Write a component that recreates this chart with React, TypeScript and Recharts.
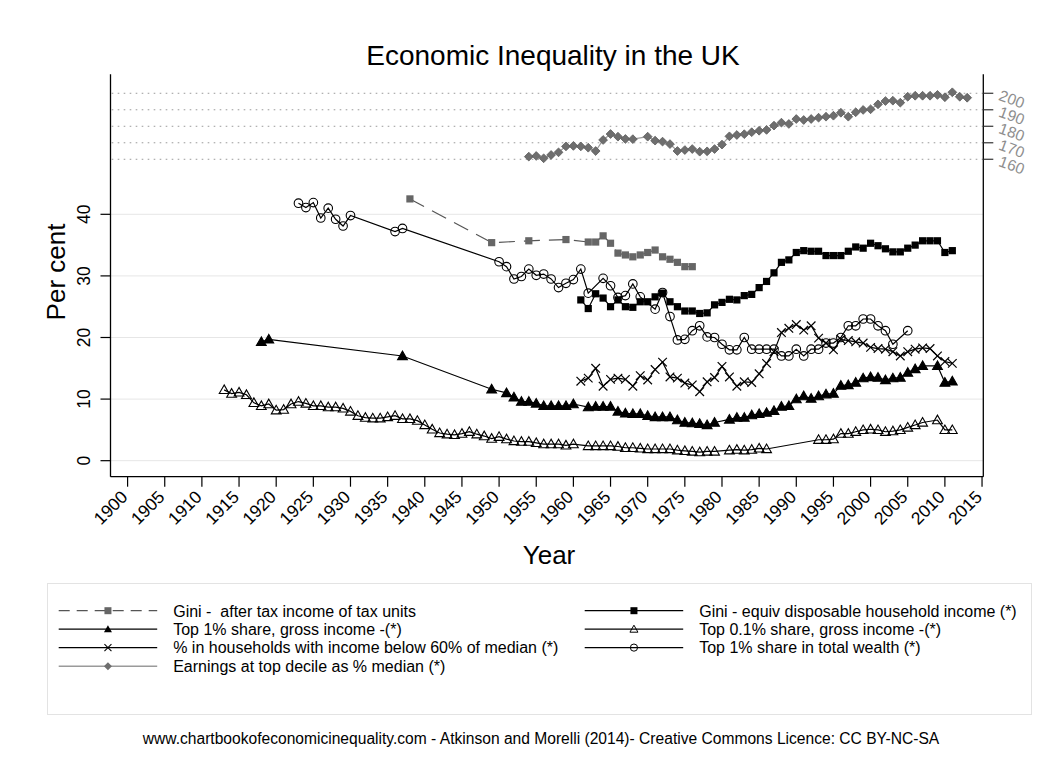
import React from 'react';
import { LineChart, Line, XAxis, YAxis, ReferenceLine, Legend } from 'recharts';

const FONT = '"Liberation Sans", Arial, Helvetica, sans-serif';

// ---------- data ----------
const yearTicks = [1900, 1905, 1910, 1915, 1920, 1925, 1930, 1935, 1940, 1945, 1950, 1955, 1960, 1965, 1970, 1975, 1980, 1985, 1990, 1995, 2000, 2005, 2010, 2015];
const leftTicks = [0, 10, 20, 30, 40];
const rightTicks = [160, 170, 180, 190, 200];

const giniTaxYears = [1938, 1949, 1954, 1959, 1962, 1963, 1964, 1965, 1966, 1967, 1968, 1969, 1970, 1971, 1972, 1973, 1974, 1975, 1976];
const giniTaxVals = [42.5, 35.4, 35.7, 35.9, 35.5, 35.5, 36.5, 35.3, 33.7, 33.4, 33.1, 33.4, 33.8, 34.2, 33.1, 32.7, 32.2, 31.5, 31.5];

const giniHhYears = [1961, 1962, 1963, 1964, 1965, 1966, 1967, 1968, 1969, 1970, 1971, 1972, 1973, 1974, 1975, 1976, 1977, 1978, 1979, 1980, 1981, 1982, 1983, 1984, 1985, 1986, 1987, 1988, 1989, 1990, 1991, 1992, 1993, 1994, 1995, 1996, 1997, 1998, 1999, 2000, 2001, 2002, 2003, 2004, 2005, 2006, 2007, 2008, 2009, 2010, 2011];
const giniHhVals = [26.1, 24.7, 27.1, 26.4, 25.0, 26.1, 25.0, 24.9, 25.8, 25.8, 26.6, 27.2, 25.8, 25.0, 24.3, 24.3, 23.9, 24.0, 25.3, 25.7, 26.2, 26.1, 26.8, 27.0, 28.1, 29.1, 30.5, 32.2, 32.6, 33.8, 34.1, 34.0, 34.0, 33.3, 33.3, 33.3, 34.0, 34.7, 34.5, 35.3, 34.9, 34.4, 33.9, 33.9, 34.5, 35.0, 35.7, 35.7, 35.7, 33.8, 34.1];

const top1Years = [1918, 1919, 1937, 1949, 1951, 1952, 1953, 1954, 1955, 1956, 1957, 1958, 1959, 1960, 1962, 1963, 1964, 1965, 1966, 1967, 1968, 1969, 1970, 1971, 1972, 1973, 1974, 1975, 1976, 1977, 1978, 1979, 1981, 1982, 1983, 1984, 1985, 1986, 1987, 1988, 1989, 1990, 1991, 1992, 1993, 1994, 1995, 1996, 1997, 1998, 1999, 2000, 2001, 2002, 2003, 2004, 2005, 2006, 2007, 2009, 2010, 2011];
const top1Vals = [19.3, 19.7, 17.0, 11.6, 11.0, 10.3, 9.6, 9.6, 9.3, 8.9, 8.9, 8.9, 8.9, 9.2, 8.7, 8.8, 8.8, 8.8, 8.0, 7.7, 7.6, 7.6, 7.3, 7.1, 7.1, 7.1, 6.6, 6.2, 6.1, 6.0, 5.8, 6.2, 6.7, 7.0, 7.0, 7.4, 7.6, 7.8, 8.1, 8.8, 8.9, 10.0, 10.5, 10.1, 10.5, 10.8, 10.9, 12.2, 12.3, 12.7, 13.4, 13.6, 13.5, 13.1, 13.4, 13.5, 14.3, 14.9, 15.4, 15.4, 12.7, 12.9];

const top01Years = [1913, 1914, 1915, 1916, 1917, 1918, 1919, 1920, 1921, 1922, 1923, 1924, 1925, 1926, 1927, 1928, 1929, 1930, 1931, 1932, 1933, 1934, 1935, 1936, 1937, 1938, 1939, 1940, 1941, 1942, 1943, 1944, 1945, 1946, 1947, 1948, 1949, 1950, 1951, 1952, 1953, 1954, 1955, 1956, 1957, 1958, 1959, 1960, 1962, 1963, 1964, 1965, 1966, 1967, 1968, 1969, 1970, 1971, 1972, 1973, 1974, 1975, 1976, 1977, 1978, 1979, 1981, 1982, 1983, 1984, 1985, 1986, 1993, 1994, 1995, 1996, 1997, 1998, 1999, 2000, 2001, 2002, 2003, 2004, 2005, 2006, 2007, 2009, 2010, 2011];
const top01Vals = [11.5, 10.9, 11.1, 10.7, 9.4, 8.9, 9.2, 8.2, 8.3, 9.2, 9.6, 9.3, 8.9, 8.9, 8.7, 8.7, 8.5, 8.0, 7.3, 7.0, 6.9, 6.9, 7.1, 7.3, 6.8, 6.8, 6.5, 5.8, 5.1, 4.5, 4.3, 4.2, 4.4, 4.7, 4.3, 4.0, 3.6, 3.9, 3.5, 3.2, 3.1, 3.1, 2.9, 2.7, 2.7, 2.7, 2.5, 2.7, 2.4, 2.4, 2.4, 2.4, 2.3, 2.1, 2.1, 2.0, 1.9, 1.9, 1.9, 1.9, 1.7, 1.6, 1.5, 1.4, 1.5, 1.5, 1.7, 1.8, 1.7, 1.8, 2.0, 1.9, 3.4, 3.4, 3.5, 4.4, 4.4, 4.7, 5.0, 5.1, 5.0, 4.7, 4.8, 5.0, 5.4, 5.8, 6.2, 6.6, 5.0, 5.0];

const povertyYears = [1961, 1962, 1963, 1964, 1965, 1966, 1967, 1968, 1969, 1970, 1971, 1972, 1973, 1974, 1975, 1976, 1977, 1978, 1979, 1980, 1981, 1982, 1983, 1984, 1985, 1986, 1987, 1988, 1989, 1990, 1991, 1992, 1993, 1994, 1995, 1996, 1997, 1998, 1999, 2000, 2001, 2002, 2003, 2004, 2005, 2006, 2007, 2008, 2009, 2010, 2011];
const povertyVals = [12.9, 13.4, 15.0, 12.1, 13.2, 13.4, 13.2, 12.1, 13.8, 13.1, 14.8, 16.0, 13.6, 13.4, 12.6, 12.3, 11.2, 12.8, 13.5, 15.3, 13.6, 12.1, 12.8, 12.7, 14.1, 15.8, 17.7, 20.8, 21.5, 22.1, 21.2, 21.9, 19.9, 19.1, 18.0, 19.7, 19.5, 19.3, 19.1, 18.4, 18.2, 18.1, 17.7, 17.0, 17.7, 18.1, 18.3, 18.2, 17.0, 16.1, 15.8];

const wealthYears = [1923, 1924, 1925, 1926, 1927, 1928, 1929, 1930, 1936, 1937, 1950, 1951, 1952, 1953, 1954, 1955, 1956, 1957, 1958, 1959, 1960, 1961, 1962, 1964, 1965, 1966, 1967, 1968, 1969, 1971, 1972, 1973, 1974, 1975, 1976, 1977, 1978, 1979, 1980, 1981, 1982, 1983, 1984, 1985, 1986, 1987, 1988, 1989, 1990, 1991, 1992, 1993, 1994, 1995, 1996, 1997, 1998, 1999, 2000, 2001, 2002, 2003, 2005];
const wealthVals = [41.8, 41.1, 41.9, 39.4, 41.0, 39.2, 38.1, 39.8, 37.2, 37.7, 32.3, 31.5, 29.5, 29.9, 31.1, 30.1, 30.3, 29.5, 28.1, 28.8, 29.4, 31.1, 27.2, 29.6, 28.4, 26.5, 26.8, 28.7, 26.6, 24.6, 27.3, 23.4, 19.6, 19.7, 21.1, 21.9, 20.1, 20.0, 18.9, 18.0, 18.0, 20.0, 18.1, 18.1, 18.1, 18.1, 17.0, 17.0, 18.1, 17.0, 18.1, 18.1, 19.1, 19.1, 20.0, 21.9, 21.9, 23.0, 23.0, 21.9, 21.1, 18.9, 21.1];

const earnYears = [1954, 1955, 1956, 1957, 1958, 1959, 1960, 1961, 1962, 1963, 1964, 1965, 1966, 1967, 1968, 1970, 1971, 1972, 1973, 1974, 1975, 1976, 1977, 1978, 1979, 1980, 1981, 1982, 1983, 1984, 1985, 1986, 1987, 1988, 1989, 1990, 1991, 1992, 1993, 1994, 1995, 1996, 1997, 1998, 1999, 2000, 2001, 2002, 2003, 2004, 2005, 2006, 2007, 2008, 2009, 2010, 2011, 2012, 2013];
const earnVals = [161.6, 162.0, 160.6, 162.6, 164.2, 167.8, 168.1, 167.8, 167.0, 165.0, 171.7, 175.3, 173.7, 172.3, 172.2, 173.7, 171.3, 170.7, 169.2, 165.0, 165.6, 166.2, 164.6, 164.8, 166.2, 168.9, 173.9, 174.7, 175.2, 176.4, 177.3, 177.8, 180.4, 182.2, 181.4, 184.4, 183.8, 184.4, 185.2, 185.8, 186.4, 188.2, 185.8, 188.5, 189.9, 190.3, 193.3, 195.3, 195.5, 194.3, 197.9, 198.5, 198.5, 198.5, 199.0, 197.6, 200.6, 197.9, 197.3];

const toData = (years: number[], vals: number[]) => years.map((y, i) => ({ year: y, v: vals[i] }));

const giniTaxData = toData(giniTaxYears, giniTaxVals);
const giniHhData = toData(giniHhYears, giniHhVals);
const top1Data = toData(top1Years, top1Vals);
const top01Data = toData(top01Years, top01Vals);
const povertyData = toData(povertyYears, povertyVals);
const wealthData = toData(wealthYears, wealthVals);
const earnData = toData(earnYears, earnVals);

// ---------- markers ----------
const square = (fill: string, s = 7.2) => (p: any) => {
  const { cx, cy, index } = p;
  if (cx == null || cy == null) return <g key={index} />;
  return <rect key={index} x={cx - s / 2} y={cy - s / 2} width={s} height={s} fill={fill} />;
};
const triangle = (fill: string, stroke: string, s = 4.9) => (p: any) => {
  const { cx, cy, index } = p;
  if (cx == null || cy == null) return <g key={index} />;
  const pts = `${cx},${cy - s} ${cx - s},${cy + s * 0.75} ${cx + s},${cy + s * 0.75}`;
  return <polygon key={index} points={pts} fill={fill} stroke={stroke} strokeWidth={1.1} />;
};
const cross = (s = 4.3) => (p: any) => {
  const { cx, cy, index } = p;
  if (cx == null || cy == null) return <g key={index} />;
  return (
    <g key={index} stroke="#000" strokeWidth={1.2}>
      <line x1={cx - s} y1={cy - s} x2={cx + s} y2={cy + s} />
      <line x1={cx - s} y1={cy + s} x2={cx + s} y2={cy - s} />
    </g>
  );
};
const circle = (r = 4.3) => (p: any) => {
  const { cx, cy, index } = p;
  if (cx == null || cy == null) return <g key={index} />;
  return <circle key={index} cx={cx} cy={cy} r={r} fill="none" stroke="#000" strokeWidth={1.1} />;
};
const diamond = (s = 4.4) => (p: any) => {
  const { cx, cy, index } = p;
  if (cx == null || cy == null) return <g key={index} />;
  const pts = `${cx},${cy - s} ${cx + s},${cy} ${cx},${cy + s} ${cx - s},${cy}`;
  return <polygon key={index} points={pts} fill="#6e6e6e" stroke="#5a5a5a" strokeWidth={0.8} />;
};

// ---------- ticks ----------
const XTick = (p: any) => {
  const { x, y, payload } = p;
  const ax = x + 1;
  const ay = y + 9.5;
  return (
    <text x={ax} y={ay} transform={`rotate(-45 ${ax} ${ay})`} textAnchor="end" fontSize={17.5} fontFamily={FONT} fill="#000">
      {payload.value}
    </text>
  );
};
const LeftTick = (p: any) => {
  const { x, y, payload } = p;
  const bx = x - 8;
  return (
    <text x={bx} y={y} transform={`rotate(-90 ${bx} ${y})`} textAnchor="middle" fontSize={17.5} fontFamily={FONT} fill="#000">
      {payload.value}
    </text>
  );
};
const RightTick = (p: any) => {
  const { x, y, payload } = p;
  const bx = x + 2.5;
  const by = y + 6.5;
  return (
    <text x={bx} y={by} transform={`rotate(20 ${bx} ${by})`} textAnchor="start" fontSize={15.5} fontFamily={FONT} fill="#8e8e8e">
      {payload.value}
    </text>
  );
};

const YTitle = () => (
  <text x={65} y={272} transform="rotate(-90 65 272)" textAnchor="middle" fontSize={26} fontFamily={FONT} fill="#000">
    Per cent
  </text>
);
const XTitle = () => (
  <text x={549} y={564} textAnchor="middle" fontSize={26} fontFamily={FONT} fill="#000">
    Year
  </text>
);

// ---------- legend ----------
type LegendItem = { label: string; kind: string; col: number; row: number };
const legendItems: LegendItem[] = [
  { label: 'Gini -  after tax income of tax units', kind: 'giniTax', col: 0, row: 0 },
  { label: 'Gini - equiv disposable household income (*)', kind: 'giniHh', col: 1, row: 0 },
  { label: 'Top 1% share, gross income -(*)', kind: 'top1', col: 0, row: 1 },
  { label: 'Top 0.1% share, gross income -(*)', kind: 'top01', col: 1, row: 1 },
  { label: '% in households with income below 60% of median (*)', kind: 'poverty', col: 0, row: 2 },
  { label: 'Top 1% share in total wealth (*)', kind: 'wealth', col: 1, row: 2 },
  { label: 'Earnings at top decile as % median (*)', kind: 'earn', col: 0, row: 3 },
];

const LegendBox = () => {
  const rowY = [27.7, 46.2, 64.6, 83.3];
  const colX = [11.7, 537.7];
  const lineLen = 98.5;
  return (
    <svg width={985} height={132} style={{ display: 'block', overflow: 'visible' }}>
      <rect x={0.5} y={0.5} width={984} height={131} fill="#fff" stroke="#e3e3e3" strokeWidth={1} />
      {legendItems.map((it, i) => {
        const x0 = colX[it.col];
        const y = rowY[it.row];
        const mx = x0 + lineLen / 2;
        let line: React.ReactNode;
        let mark: React.ReactNode;
        if (it.kind === 'giniTax') {
          line = <line x1={x0} y1={y} x2={x0 + lineLen} y2={y} stroke="#555" strokeWidth={1.2} strokeDasharray="11 7" />;
          mark = <rect x={mx - 3.5} y={y - 3.5} width={7} height={7} fill="#666" />;
        } else if (it.kind === 'giniHh') {
          line = <line x1={x0} y1={y} x2={x0 + lineLen} y2={y} stroke="#000" strokeWidth={1.2} />;
          mark = <rect x={mx - 3.5} y={y - 3.5} width={7} height={7} fill="#000" />;
        } else if (it.kind === 'top1') {
          line = <line x1={x0} y1={y} x2={x0 + lineLen} y2={y} stroke="#000" strokeWidth={1.2} />;
          mark = <polygon points={`${mx},${y - 4} ${mx - 4},${y + 3} ${mx + 4},${y + 3}`} fill="#000" />;
        } else if (it.kind === 'top01') {
          line = <line x1={x0} y1={y} x2={x0 + lineLen} y2={y} stroke="#000" strokeWidth={1.2} />;
          mark = <polygon points={`${mx},${y - 4} ${mx - 4},${y + 3} ${mx + 4},${y + 3}`} fill="none" stroke="#000" strokeWidth={1} />;
        } else if (it.kind === 'poverty') {
          line = <line x1={x0} y1={y} x2={x0 + lineLen} y2={y} stroke="#000" strokeWidth={1.2} />;
          mark = (
            <g stroke="#000" strokeWidth={1.1}>
              <line x1={mx - 3.5} y1={y - 3.5} x2={mx + 3.5} y2={y + 3.5} />
              <line x1={mx - 3.5} y1={y + 3.5} x2={mx + 3.5} y2={y - 3.5} />
            </g>
          );
        } else if (it.kind === 'wealth') {
          line = <line x1={x0} y1={y} x2={x0 + lineLen} y2={y} stroke="#000" strokeWidth={1.2} />;
          mark = <circle cx={mx} cy={y} r={3.6} fill="none" stroke="#000" strokeWidth={1} />;
        } else {
          line = <line x1={x0} y1={y} x2={x0 + lineLen} y2={y} stroke="#9a9a9a" strokeWidth={1.6} />;
          mark = <polygon points={`${mx},${y - 4} ${mx + 4},${y} ${mx},${y + 4} ${mx - 4},${y}`} fill="#6e6e6e" />;
        }
        return (
          <g key={i}>
            {line}
            {mark}
            <text x={x0 + 114.5} y={y + 5.8} fontSize={16} fontFamily={FONT} fill="#000" style={{ whiteSpace: 'pre' }}>
              {it.label}
            </text>
          </g>
        );
      })}
    </svg>
  );
};

export default function App() {
  return (
    <div style={{ position: 'absolute', left: 0, top: 0, width: 1056, height: 769, background: '#fff' }}>
      <LineChart width={1056} height={769} margin={{ top: 74.3, right: 0, bottom: 0, left: 0 }}>
        <XAxis
          dataKey="year"
          type="number"
          domain={[1897.7, 2015.17]}
          allowDataOverflow
          ticks={yearTicks}
          interval={0}
          height={292.3}
          tickSize={10}
          tickLine={{ stroke: '#000', strokeWidth: 1.2 }}
          axisLine={{ stroke: '#000', strokeWidth: 1.3 }}
          tick={<XTick />}
          label={<XTitle />}
        />
        <YAxis
          yAxisId="left"
          orientation="left"
          type="number"
          domain={[-2.6, 62.73]}
          allowDataOverflow
          ticks={leftTicks}
          interval={0}
          width={110.5}
          tickSize={10}
          tickLine={{ stroke: '#000', strokeWidth: 1.2 }}
          axisLine={{ stroke: '#000', strokeWidth: 1.3 }}
          tick={<LeftTick />}
          label={<YTitle />}
        />
        <YAxis
          yAxisId="right"
          orientation="right"
          type="number"
          domain={[-32.4, 211.5]}
          allowDataOverflow
          ticks={rightTicks}
          interval={0}
          width={72.7}
          tickSize={10}
          tickLine={{ stroke: '#333', strokeWidth: 1.2 }}
          axisLine={{ stroke: '#000', strokeWidth: 1.3 }}
          tick={<RightTick />}
        />
        {leftTicks.map((t) => (
          <ReferenceLine key={`gl${t}`} yAxisId="left" y={t} stroke="#e6e6e6" strokeWidth={1} />
        ))}
        {rightTicks.map((t) => (
          <ReferenceLine key={`gr${t}`} yAxisId="right" y={t} stroke="#9a9a9a" strokeWidth={1} strokeDasharray="1.6 4.4" />
        ))}
        <Legend
          layout="horizontal"
          verticalAlign="middle"
          align="center"
          wrapperStyle={{ position: 'absolute', left: 47.3, top: 583.3, width: 985, height: 132 }}
          content={() => <LegendBox />}
        />
        <Line yAxisId="right" data={earnData} dataKey="v" name="Earnings at top decile as % median (*)" stroke="#9a9a9a" strokeWidth={1.2} dot={diamond()} activeDot={false} isAnimationActive={false} />
        <Line yAxisId="left" data={giniTaxData} dataKey="v" name="Gini -  after tax income of tax units" stroke="#555" strokeWidth={1.2} strokeDasharray="16 9" dot={square('#666')} activeDot={false} isAnimationActive={false} />
        <Line yAxisId="left" data={giniHhData} dataKey="v" name="Gini - equiv disposable household income (*)" stroke="#000" strokeWidth={1.2} dot={square('#000')} activeDot={false} isAnimationActive={false} />
        <Line yAxisId="left" data={top1Data} dataKey="v" name="Top 1% share, gross income -(*)" stroke="#000" strokeWidth={1.2} dot={triangle('#000', '#000')} activeDot={false} isAnimationActive={false} />
        <Line yAxisId="left" data={top01Data} dataKey="v" name="Top 0.1% share, gross income -(*)" stroke="#000" strokeWidth={1.2} dot={triangle('none', '#000')} activeDot={false} isAnimationActive={false} />
        <Line yAxisId="left" data={povertyData} dataKey="v" name="% in households with income below 60% of median (*)" stroke="#000" strokeWidth={1.2} dot={cross()} activeDot={false} isAnimationActive={false} />
        <Line yAxisId="left" data={wealthData} dataKey="v" name="Top 1% share in total wealth (*)" stroke="#000" strokeWidth={1.2} dot={circle()} activeDot={false} isAnimationActive={false} />
      </LineChart>
      <svg width={1056} height={769} style={{ position: 'absolute', left: 0, top: 0, pointerEvents: 'none' }}>
        <text x={553} y={65} textAnchor="middle" fontSize={28} fontFamily={FONT} fill="#000">
          Economic Inequality in the UK
        </text>
        <text x={541} y={744} textAnchor="middle" fontSize={15.6} fontFamily={FONT} fill="#000">
          www.chartbookofeconomicinequality.com - Atkinson and Morelli (2014)- Creative Commons Licence: CC BY-NC-SA
        </text>
      </svg>
    </div>
  );
}
